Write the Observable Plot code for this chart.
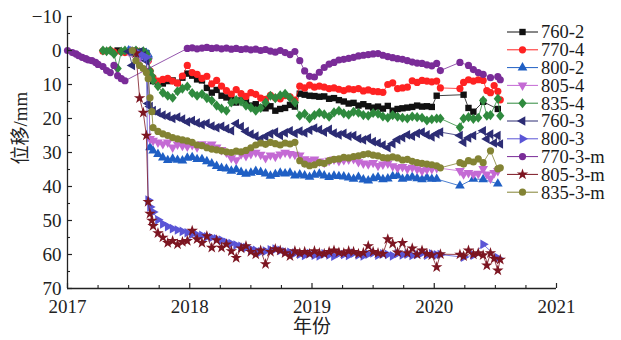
<!DOCTYPE html>
<html>
<head>
<meta charset="utf-8">
<script src="https://cdn.jsdelivr.net/npm/d3@7"></script>
<script src="https://cdn.jsdelivr.net/npm/@observablehq/plot@0.6"></script>
<style>
  body { margin: 0; background: #fff; }
  #chart { position: relative; width: 621px; height: 340px; }
  #legend { position: absolute; left: 500px; top: 20px; }
</style>
</head>
<body>
<div id="chart"></div>
<script>
const _ = null;

// Survey dates (decimal years): early readings, regular period, sparse 2020 readings
const years = [
  2017.00, 2017.04, 2017.07, 2017.09, 2017.12, 2017.15, 2017.17, 2017.20, 2017.23, 2017.25,
  2017.29, 2017.32, 2017.35, 2017.38, 2017.41, 2017.44, 2017.47, 2017.50, 2017.53, 2017.56,
  2017.59, 2017.62, 2017.645, 2017.66, 2017.675, 2017.69,

  2017.70, 2017.74, 2017.78, 2017.82, 2017.86, 2017.90, 2017.94, 2017.98, 2018.02, 2018.06,
  2018.10, 2018.14, 2018.18, 2018.22, 2018.26, 2018.30, 2018.34, 2018.38, 2018.42, 2018.46,
  2018.50, 2018.54, 2018.58, 2018.62, 2018.66, 2018.70, 2018.74, 2018.78, 2018.82, 2018.86,
  2018.90, 2018.94, 2018.98, 2019.02, 2019.06, 2019.10, 2019.14, 2019.18, 2019.22, 2019.26,
  2019.30, 2019.34, 2019.38, 2019.42, 2019.46, 2019.50, 2019.54, 2019.58, 2019.62, 2019.66,
  2019.70, 2019.74, 2019.78, 2019.82, 2019.86, 2019.90, 2019.94, 2019.98, 2020.02,

  2020.05, 2020.21, 2020.24, 2020.28, 2020.32, 2020.36, 2020.40, 2020.43, 2020.46, 2020.49,
  2020.52, 2020.54
];

// Displacement (mm) per monitoring point, one value per survey date (null = not surveyed)
const v760_2 = [
  _, _, _, _, _, _, _, _, _, _,  _, _, _, _, 0.0, _, 0.4, _, 0.2, _,  0.6, 0.3, 0.8, 2.5, 6.5, _,
  9.0, 9.4, 9.7, 9.0, 8.8, 9.5, 8.0, 6.8, 7.4, 8.5,
  8.8, 11.0, 12.4, 11.6, 13.3, 13.8, 14.2, 15.3, 14.7, 15.0,
  16.2, 15.8, 16.8, 17.0, 16.4, 17.7, 17.2, 16.9, 16.0, 16.5,
  12.7, 13.0, 13.3, 13.4, 13.6, 13.5, 14.2, 14.0, 14.6, 15.0,
  15.6, 15.4, 16.2, 15.8, 16.4, 16.8, 16.5, 17.1, 16.3, 17.7,
  17.2, 17.0, 16.8, 16.6, 16.2, 16.5, 16.4, 16.6, 13.3,
  _, _, 13.0, 16.9, 18.0, _, 15.1, _, _, _, 17.2, _
];
const v770_4 = [
  _, _, _, _, _, _, _, _, _, _,  0.2, _, 0.0, 0.5, _, 0.4, 0.6, _, 0.3, 0.0,  0.8, 0.4, 1.2, 3.0, 6.0, _,
  8.0, 9.0, 8.5, 8.2, 9.0, 9.6, 7.5, 4.4, 6.5, 7.0,
  8.2, 7.6, 9.8, 8.8, 10.5, 11.8, 12.8, 11.5, 12.7, 13.5,
  12.4, 12.9, 14.0, 14.4, 13.2, 13.9, 14.2, 13.3, 13.6, 14.6,
  10.5, 11.0, 10.2, 10.8, 10.5, 10.8, 11.2, 11.0, 11.4, 11.8,
  11.3, 11.5, 11.2, 11.9, 11.6, 12.0, 12.1, 12.3, 10.0, 9.5,
  11.2, 11.0, 10.8, 8.9, 9.4, 8.8, 9.0, 9.2, 9.0,
  11.0, 11.2, 9.4, 8.6, 9.0, 8.6, 8.8, 11.8, 12.4, 10.3, 12.0, 14.5
];
const v800_2 = [
  _, _, _, _, _, _, _, _, _, _,  _, _, _, _, _, _, _, 0.0, _, 0.4,  1.5, 0.5, 0.8, 1.2, 28.5, _,
  29.5, 30.5, 31.5, 32.3, 31.9, 32.2, 32.4, 31.6, 31.4, 32.0,
  32.0, 32.6, 33.3, 34.0, 34.6, 34.8, 35.4, 35.0, 35.8, 36.3,
  36.0, 35.5, 35.8, 36.2, 36.9, 36.4, 36.0, 36.2, 36.0, 36.8,
  36.5, 36.8, 37.2, 36.6, 36.3, 36.8, 37.3, 36.9, 37.0, 37.1,
  37.4, 37.8, 37.2, 38.0, 38.3, 37.6, 37.3, 37.9, 37.7, 37.0,
  36.8, 37.8, 37.5, 37.2, 37.6, 37.9, 37.4, 37.8, 37.8,
  _, 39.8, _, _, 37.8, _, 37.9, _, _, _, 39.2, _
];
const v805_4 = [
  _, _, _, _, _, _, _, _, _, _,  _, _, _, _, _, _, _, 0.2, 0.6, 1.0,  2.5, 1.0, 2.0, 3.0, 26.0, _,
  26.5, 27.0, 27.5, 27.0, 28.5, 27.6, 28.0, 28.2, 27.8, 28.4,
  27.5, 28.0, 27.6, 28.5, 29.2, 30.0, 31.6, 32.2, 30.5, 31.0,
  30.4, 30.0, 30.6, 31.6, 30.8, 31.2, 30.5, 30.0, 30.4, 30.6,
  30.8, 31.9, 32.4, 32.0, 32.6, 33.0, 32.4, 32.0, 32.5, 32.2,
  32.0, 31.9, 32.8, 33.2, 33.4, 33.0, 33.9, 33.5, 33.2, 34.0,
  34.5, 34.2, 34.8, 34.4, 34.9, 35.4, 35.0, 34.8, 34.5,
  _, 35.4, 36.4, 36.0, 36.4, 36.2, 34.8, 36.4, 37.6, 36.0, 35.4, _
];
const v835_4 = [
  _, _, _, _, _, _, _, _, _, _,  0.0, 0.2, 0.0, 1.0, 5.3, 0.3, 0.0, _, 0.2, 0.0,  0.5, 0.2, 1.0, 2.5, 6.0, 7.5,
  8.8, 10.5, 12.4, 13.3, 13.9, 12.0, 11.2, 10.6, 12.5, 13.3,
  12.8, 14.0, 14.7, 16.2, 17.1, 17.7, 15.3, 14.6, 15.0, 16.2,
  16.8, 17.7, 16.9, 15.3, 13.3, 14.0, 13.2, 12.7, 13.9, 15.3,
  19.2, 18.6, 20.0, 19.0, 18.3, 18.8, 19.5, 18.2, 17.7, 18.5,
  18.9, 18.0, 18.3, 19.0, 19.2, 18.4, 18.6, 19.4, 19.8, 19.0,
  19.5, 19.8, 20.0, 19.4, 19.6, 19.8, 20.6, 20.2, 20.0,
  20.0, 22.6, 20.0, 19.6, 20.1, 19.8, 14.7, 19.2, 19.0, _, 14.2, 19.2
];
const v760_3 = [
  _, _, _, _, _, _, _, _, _, _,  _, _, _, _, _, _, _, 0.3, 4.4, 1.0,  0.5, 1.5, 3.0, 15.6, 16.5, _,
  17.7, 18.3, 19.0, 19.4, 20.0, 19.6, 20.2, 21.0, 20.6, 21.3,
  21.8, 21.4, 22.2, 22.7, 22.3, 23.0, 23.6, 21.5, 22.4, 23.8,
  24.6, 25.2, 26.0, 25.3, 24.5, 24.0, 25.0, 24.2, 23.6, 24.4,
  23.7, 24.2, 23.4, 22.8, 23.3, 24.0, 23.2, 24.3, 24.8, 24.4,
  25.2, 25.0, 25.9, 26.3, 25.8, 26.8, 27.2, 27.8, 28.6, 27.4,
  26.2, 25.6, 24.8, 25.2, 24.4, 24.0, 24.8, 25.4, 24.5,
  24.0, 25.0, 27.0, 25.7, 25.0, _, 23.6, 26.0, 24.6, 27.2, 25.0, 27.5
];
const v800_3 = [
  _, _, _, _, _, _, _, _, _, _,  _, _, _, _, _, _, _, _, 0.0, 0.5,  1.0, 1.5, 2.0, 44.0, 46.0, _,
  47.5, 49.8, 51.0, 51.8, 52.4, 52.8, 53.2, 53.6, 54.0, 54.2,
  54.4, 54.8, 55.0, 55.4, 55.8, 56.4, 56.8, 57.2, 57.6, 58.0,
  58.4, 58.8, 59.2, 59.0, 58.6, 58.4, 58.8, 59.2, 59.4, 59.6,
  59.9, 60.3, 59.7, 60.2, 60.4, 59.8, 60.1, 60.5, 59.7, 60.0,
  60.3, 59.6, 60.1, 60.4, 59.9, 59.5, 60.2, 59.8, 60.0, 60.4,
  59.7, 60.1, 59.9, 60.3, 60.0, 59.6, 60.2, 59.8, 60.1,
  60.0, _, 60.8, _, 60.2, _, 57.0, _, _, _, 61.0, _
];
const v770_3m = [
  0.0, 0.6, 1.0, 1.5, 2.0, 2.4, 2.8, 3.0, 3.5, 4.1,  4.7, 5.9, 6.5, 4.4, 7.4, 8.3, 8.9, _, _, _,  _, _, _, _, _, _,
  _, _, _, _, _, _, _, -0.6, -0.8, -0.5,
  -0.7, -0.9, -0.6, -0.8, -0.5, -0.7, -0.4, -0.6, -0.3, -0.5,
  -0.2, -0.4, 0.0, -0.3, 0.2, 0.5, 0.0, 0.6, 1.2, 0.3,
  3.0, 6.0, 7.6, 7.8, 6.4, 5.0, 4.0, 3.5, 2.8, 2.6,
  2.3, 2.0, 1.6, 1.4, 1.2, 1.0, 0.9, 1.4, 1.8, 2.1,
  2.4, 2.6, 3.0, 3.4, 3.7, 3.8, 4.2, 4.5, 3.8,
  5.9, 3.5, _, 4.4, 5.6, 6.5, 7.0, _, 8.0, _, 7.7, 8.6
];
const v805_3m = [
  _, _, _, _, _, _, _, _, _, _,  _, _, _, _, _, _, _, _, _, 0.8,  14.0, 18.3, 25.0, 44.5, 48.0, 50.0,
  51.6, 53.7, 55.0, 56.6, 56.0, 57.0, 56.3, 56.0, 53.0, 55.5,
  56.6, 54.6, 58.0, 55.8, 58.0, 57.0, 59.0, 61.0, 58.2, 57.5,
  59.2, 60.0, 58.8, 62.8, 59.2, 58.4, 58.8, 59.6, 60.5, 59.0,
  59.6, 59.2, 59.8, 59.0, 59.6, 59.8, 59.2, 58.8, 59.4, 59.6,
  59.0, 59.2, 59.8, 59.5, 57.5, 59.2, 59.6, 59.8, 55.5, 56.8,
  59.4, 56.6, 59.6, 58.2, 60.0, 58.8, 59.8, 60.2, 63.7,
  59.9, 60.0, 60.5, 58.8, 60.0, 59.6, 60.2, 63.2, 59.6, 61.2, 64.7, 61.5
];
const v835_3m = [
  _, _, _, _, _, _, _, _, _, _,  _, _, _, _, _, _, _, _, 0.0, 3.0,  4.4, 5.3, 6.5, 8.3, 13.9, 18.0,
  22.7, 23.8, 24.5, 25.0, 25.6, 26.0, 26.3, 26.6, 27.0, 27.8,
  28.0, 28.6, 29.0, 29.2, 29.5, 29.8, 30.0, 29.6, 29.8, 29.4,
  28.6, 27.8, 27.2, 27.6, 27.0, 27.4, 27.8, 27.2, 27.5, 27.0,
  32.4, 33.4, 33.9, 33.6, 33.0, 33.2, 32.4, 32.0, 31.9, 31.4,
  31.6, 31.2, 31.0, 30.6, 30.4, 30.8, 31.0, 31.5, 31.6, 31.3,
  31.6, 32.2, 32.0, 32.6, 33.0, 33.2, 33.4, 33.6, 33.9,
  34.5, 33.0, 33.4, 32.4, 32.8, 31.9, 33.0, _, 29.5, _, 34.8, 34.5
];

const seriesNames = ["760-2", "770-4", "800-2", "805-4", "835-4", "760-3", "800-3", "770-3-m", "805-3-m", "835-3-m"];
const seriesValues = [v760_2, v770_4, v800_2, v805_4, v835_4, v760_3, v800_3, v770_3m, v805_3m, v835_3m];
const seriesColors = ["#111111", "#ff2222", "#1f5fc4", "#c46ad4", "#2f8a3e", "#2c2c74", "#5a55d6", "#7a2c98", "#7c1521", "#838334"];

const xTicks = [2017, 2018, 2019, 2020, 2021];
const xMinorTicks = [2017.25, 2017.5, 2017.75, 2018.25, 2018.5, 2018.75, 2019.25, 2019.5, 2019.75, 2020.25, 2020.5, 2020.75];
const yTicks = [-10, 0, 10, 20, 30, 40, 50, 60, 70];
const yMinorTicks = [-5, 5, 15, 25, 35, 45, 55, 65];

// Marker shapes
const sqrt3 = Math.sqrt(3);
function triangle(angle) {
  const c = Math.cos(angle), s = Math.sin(angle);
  return {
    draw(context, size) {
      const y = -Math.sqrt(size / (sqrt3 * 3));
      const pts = [[0, y * 2], [-sqrt3 * y, -y], [sqrt3 * y, -y]];
      pts.forEach(([px, py], i) => {
        const qx = px * c - py * s, qy = px * s + py * c;
        if (i) context.lineTo(qx, qy); else context.moveTo(qx, qy);
      });
      context.closePath();
    }
  };
}
const diamond = {
  draw(context, size) {
    const r = Math.sqrt(size / 2);
    context.moveTo(0, -r * 1.12);
    context.lineTo(r * 0.92, 0);
    context.lineTo(0, r * 1.12);
    context.lineTo(-r * 0.92, 0);
    context.closePath();
  }
};
const seriesSymbols = [
  d3.symbolSquare, d3.symbolCircle, triangle(0), triangle(Math.PI), diamond,
  triangle(-Math.PI / 2), triangle(Math.PI / 2), d3.symbolCircle, d3.symbolStar, d3.symbolCircle
];
const markerR = 3.6;

// Build per-series point lists (skipping dates without a reading)
const seriesData = seriesValues.map((vals, k) => {
  if (vals.length !== years.length) throw new Error(seriesNames[k] + " has " + vals.length + " values");
  return years.map((t, i) => ({year: t, value: vals[i]})).filter(d => d.value != null);
});

const marks = [];
seriesData.forEach((data, k) => {
  marks.push(Plot.line(data, {x: "year", y: "value", stroke: seriesColors[k], strokeWidth: 0.8}));
  marks.push(Plot.dot(data, {x: "year", y: "value", fill: seriesColors[k], symbol: seriesSymbols[k], r: markerR}));
});

const axisColor = "#222";
const font = "'Liberation Serif', 'Noto Sans CJK SC', serif";

const plot = Plot.plot({
  width: 621,
  height: 340,
  marginLeft: 67,
  marginRight: 65,
  marginTop: 16,
  marginBottom: 52,
  style: {fontFamily: font, fontSize: "19px", color: axisColor, background: "white"},
  x: {domain: [2017, 2021], axis: null},
  y: {domain: [-10, 70], reverse: true, axis: null},
  marks: [
    ...marks,
    Plot.ruleX([2017], {stroke: axisColor, strokeWidth: 1.3}),
    Plot.ruleY([70], {stroke: axisColor, strokeWidth: 1.3}),
    Plot.axisX({ticks: xTicks, tickSize: -5, tickPadding: 16, tickFormat: d => String(d), label: null, stroke: axisColor, strokeWidth: 1.2, fontSize: 19}),
    Plot.axisX({ticks: xMinorTicks, tickSize: -3, tickFormat: () => "", label: null, stroke: axisColor, strokeWidth: 1.1}),
    Plot.axisY({ticks: yTicks, tickSize: -5, tickPadding: 11, label: null, stroke: axisColor, strokeWidth: 1.2, fontSize: 19}),
    Plot.axisY({ticks: yMinorTicks, tickSize: -3, tickFormat: () => "", label: null, stroke: axisColor, strokeWidth: 1.1}),
    Plot.text(["年份"], {frameAnchor: "bottom", dy: 44, fontSize: 19, fill: axisColor}),
    Plot.text(["位移/mm"], {frameAnchor: "left", rotate: -90, dx: -47, dy: 12, fontSize: 19, fill: axisColor})
  ]
});

const chart = document.getElementById("chart");
chart.appendChild(plot);

// Legend: line segment with marker, then the point name
const rowStep = 17.8;
const legend = d3.select(chart).append("svg")
  .attr("id", "legend")
  .attr("width", 121)
  .attr("height", 190)
  .style("font-family", font)
  .style("font-size", "18.5px");
seriesNames.forEach((name, k) => {
  const y = 12 + k * rowStep;
  const g = legend.append("g").attr("transform", `translate(0,${y})`);
  g.append("line").attr("x1", 7).attr("x2", 38).attr("y1", 0).attr("y2", 0)
    .attr("stroke", seriesColors[k]).attr("stroke-width", 1);
  g.append("path").attr("transform", "translate(22.5,0)")
    .attr("d", d3.symbol(seriesSymbols[k], markerR * markerR * Math.PI)())
    .attr("fill", seriesColors[k]);
  g.append("text").attr("x", 41).attr("y", 0).attr("dy", "0.35em")
    .attr("fill", "#1a1a1a").text(name);
});
</script>
</body>
</html>
